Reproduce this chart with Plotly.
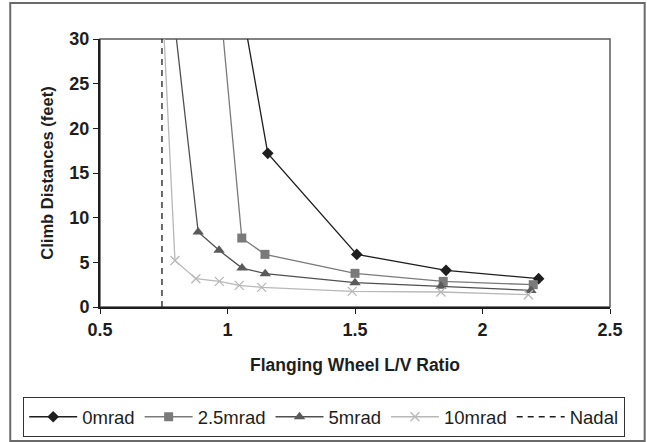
import plotly.graph_objects as go

# Data
x_0mrad = [1.03, 1.158, 1.507, 1.857, 2.22]
y_0mrad = [37.9, 17.2, 5.89, 4.1, 3.17]

x_2p5mrad = [0.95, 1.056, 1.147, 1.50, 1.846, 2.199]
y_2p5mrad = [40.5, 7.72, 5.89, 3.77, 2.87, 2.50]

x_5mrad = [0.78, 0.885, 0.967, 1.057, 1.148, 1.50, 1.837, 2.19]
y_5mrad = [35.0, 8.40, 6.34, 4.36, 3.73, 2.72, 2.31, 1.86]

x_10mrad = [0.745, 0.794, 0.876, 0.968, 1.046, 1.134, 1.489, 1.837, 2.18]
y_10mrad = [34.0, 5.20, 3.17, 2.87, 2.42, 2.20, 1.75, 1.68, 1.38]

x_nadal = [0.743, 0.743]
y_nadal = [0, 30]

x_ticks = [0.5, 1, 1.5, 2, 2.5]
y_ticks = [0, 5, 10, 15, 20, 25, 30]

FONT = "Liberation Sans"

fig = go.Figure()
fig.add_trace(go.Scatter(x=x_0mrad, y=y_0mrad, name="0mrad", mode="lines+markers",
                         line=dict(color="#1e1e1e", width=1.3),
                         marker=dict(symbol="diamond", size=9, color="#1e1e1e")))
fig.add_trace(go.Scatter(x=x_2p5mrad, y=y_2p5mrad, name="2.5mrad", mode="lines+markers",
                         line=dict(color="#7a7a7a", width=1.3),
                         marker=dict(symbol="square", size=9, color="#7a7a7a")))
fig.add_trace(go.Scatter(x=x_5mrad, y=y_5mrad, name="5mrad", mode="lines+markers",
                         line=dict(color="#505050", width=1.3),
                         marker=dict(symbol="triangle-up", size=10, color="#5a5a5a")))
fig.add_trace(go.Scatter(x=x_10mrad, y=y_10mrad, name="10mrad", mode="lines+markers",
                         line=dict(color="#b8b8b8", width=1.3),
                         marker=dict(symbol="x-thin", size=9, color="#b8b8b8",
                                     line=dict(color="#b8b8b8", width=1.3))))
fig.add_trace(go.Scatter(x=x_nadal, y=y_nadal, name="Nadal", mode="lines",
                         line=dict(color="#1e1e1e", width=1.3, dash="6px,5px")))

# outer frame
fig.add_shape(type="rect", xref="paper", yref="paper",
              x0=-0.176, x1=1.068, y0=-0.5, y1=1.134,
              line=dict(color="#6a6a6a", width=2), layer="below")
# plot area border
fig.add_shape(type="rect", xref="paper", yref="paper",
              x0=0, x1=1, y0=0, y1=1,
              line=dict(color="#5a5a5a", width=1.5), layer="below")

fig.update_layout(
    width=647, height=442,
    margin=dict(l=100, r=37, t=39, b=135, autoexpand=False),
    paper_bgcolor="white", plot_bgcolor="white",
    font=dict(family=FONT, color="#1e1e1e"),
    showlegend=True,
    legend=dict(orientation="h", x=-0.151, xanchor="left", y=-0.336, yanchor="top",
                bordercolor="#333", borderwidth=1.2, font=dict(size=18.5, family=FONT),
                itemwidth=48, tracegroupgap=0, bgcolor="white"),
    xaxis=dict(range=[0.5, 2.5], tickvals=x_ticks, ticktext=[str(v) for v in x_ticks],
               showgrid=False, zeroline=False, showline=True, linecolor="#1e1e1e",
               linewidth=2, ticks="outside", ticklen=5, tickcolor="#1e1e1e",
               tickfont=dict(size=18, family=FONT, weight="bold"),
               title=dict(text="<b>Flanging Wheel L/V Ratio</b>", font=dict(size=17.5, family=FONT),
                          standoff=20)),
    yaxis=dict(range=[0, 30], tickvals=y_ticks,
               showgrid=False, zeroline=False, showline=True, linecolor="#1e1e1e",
               linewidth=2, ticks="outside", ticklen=5, tickcolor="#1e1e1e",
               tickfont=dict(size=18, family=FONT, weight="bold"),
               title=dict(text="<b>Climb Distances (feet)</b>", font=dict(size=16.5, family=FONT),
                          standoff=12)),
)

fig.write_html("out.html", config={"displayModeBar": False},
               post_script="document.body.style.margin='0';")
